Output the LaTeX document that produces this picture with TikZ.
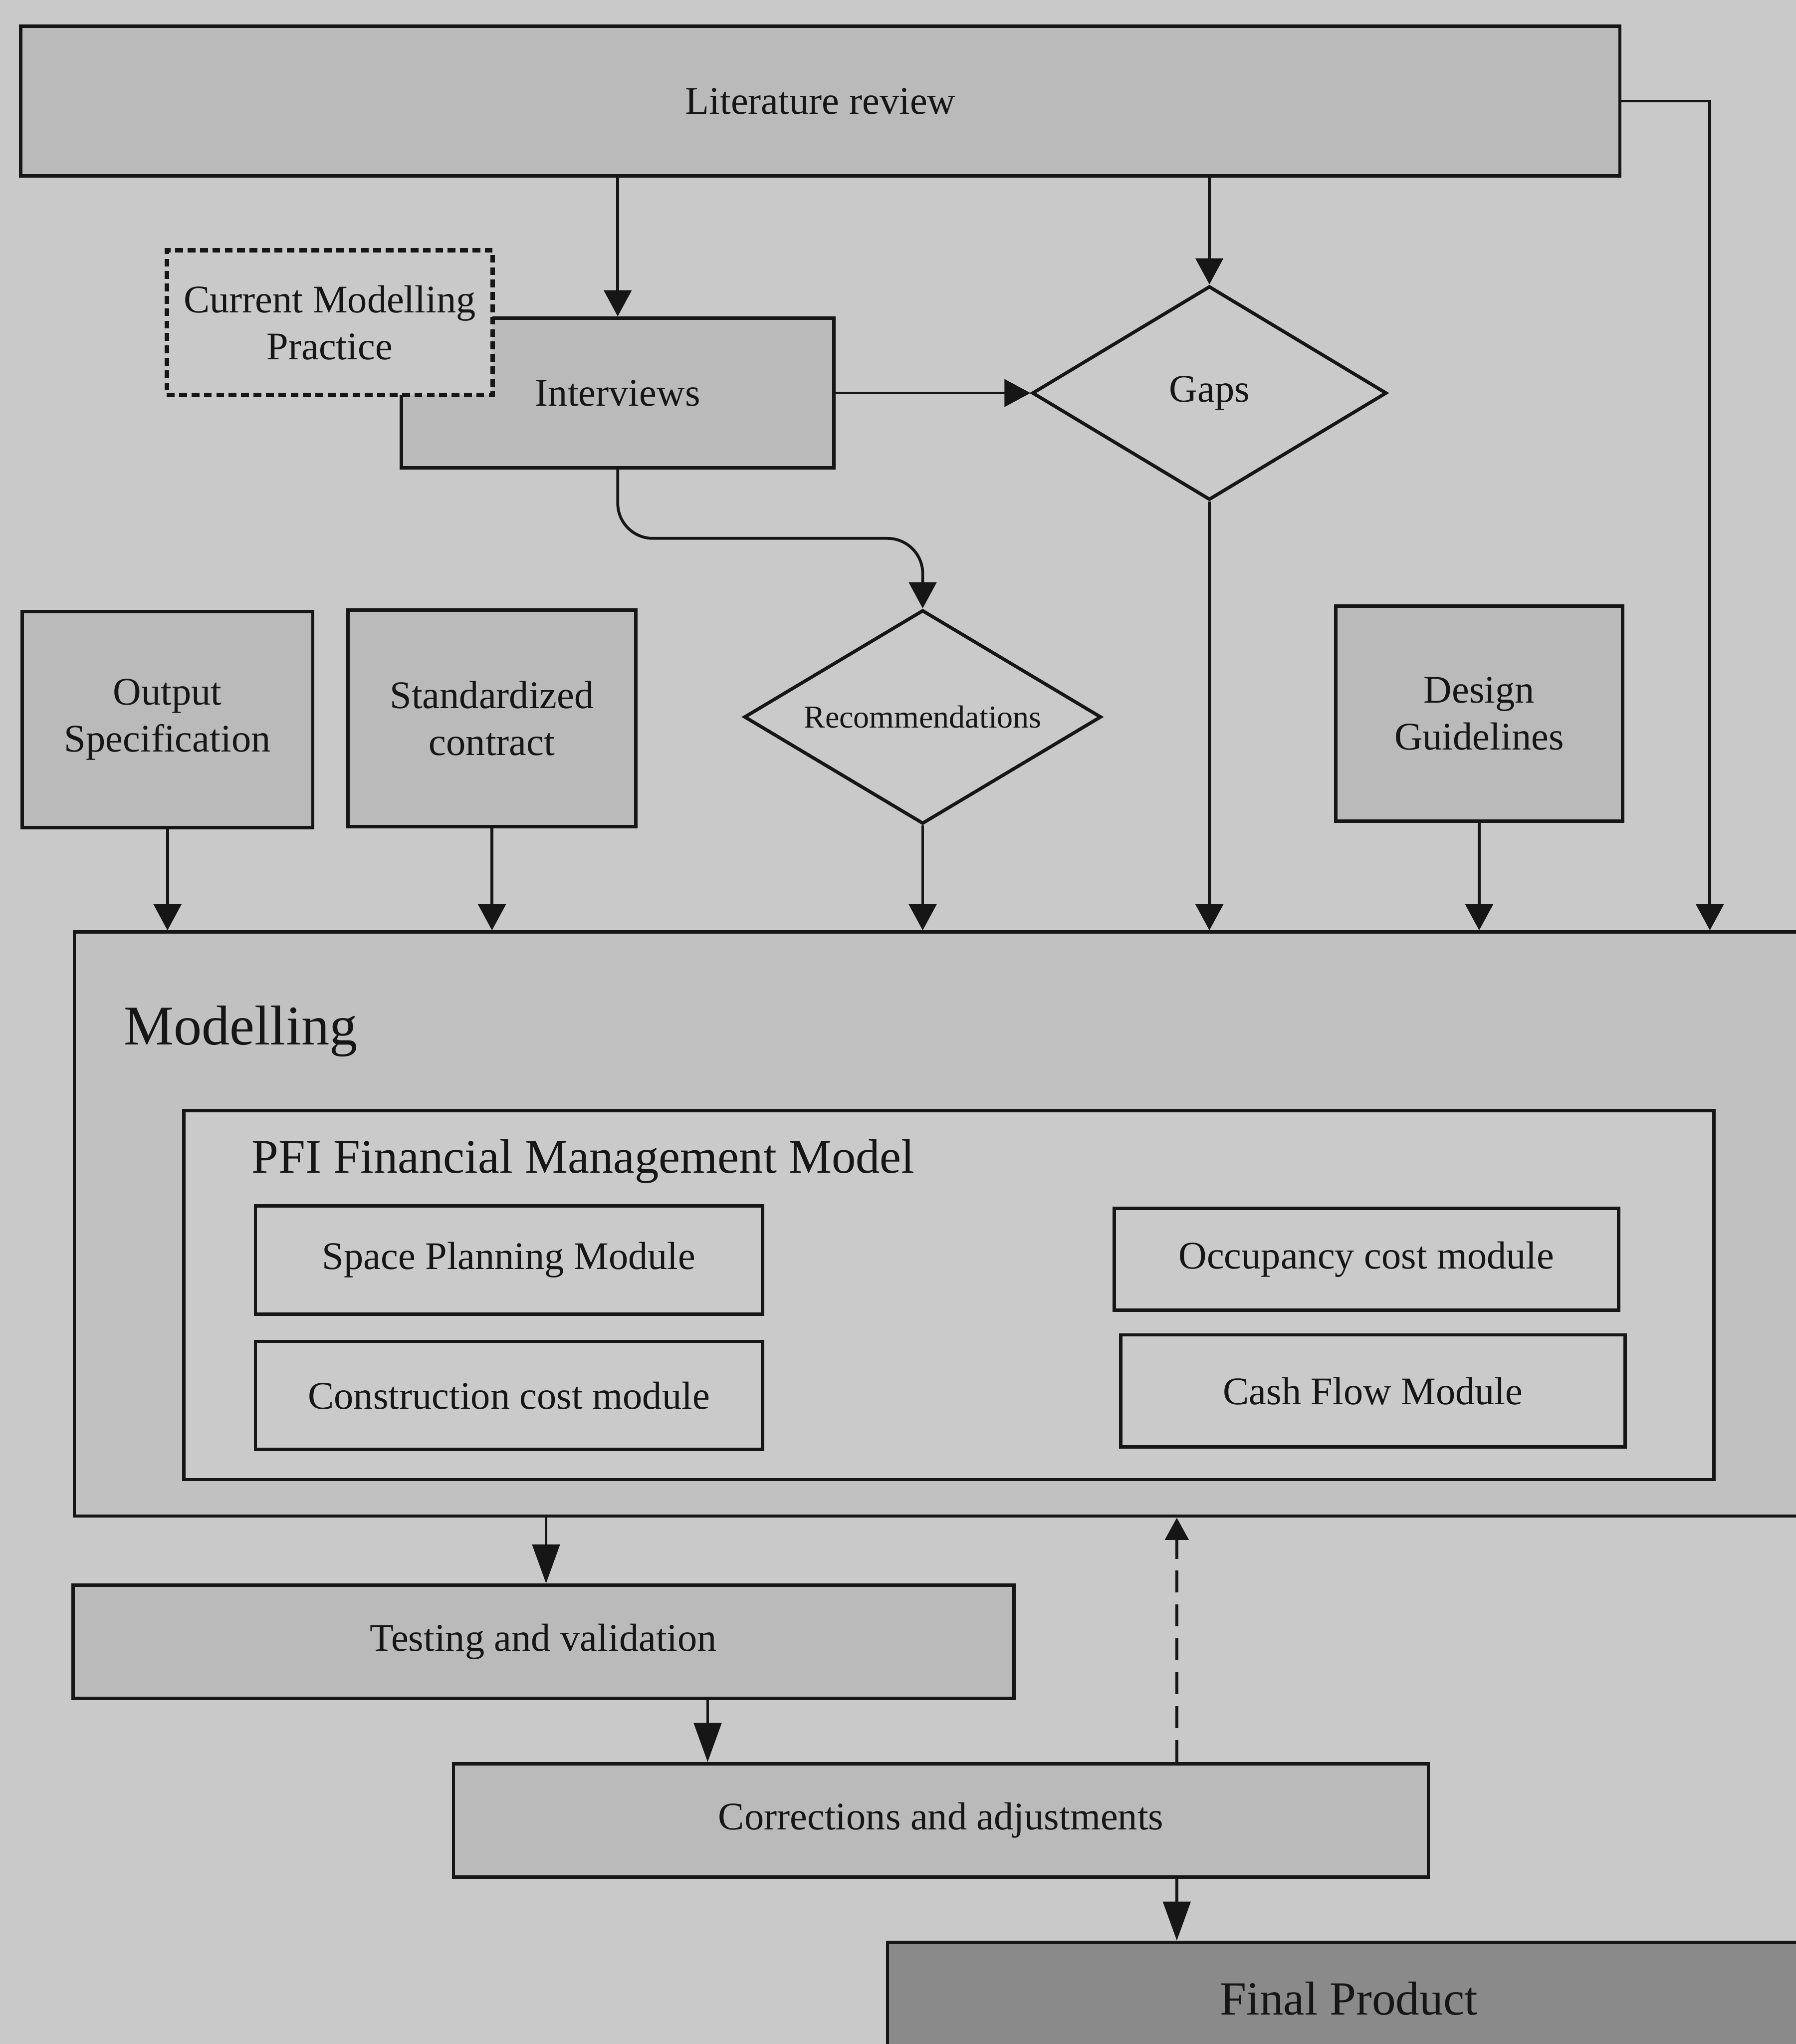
\documentclass[tikz,border=0pt]{standalone}
\usepackage{fontspec}
\setmainfont{Liberation Serif}
\usetikzlibrary{shapes.geometric,arrows.meta}

\definecolor{paper}{RGB}{201,201,201}
\definecolor{boxgray}{RGB}{186,186,186}
\definecolor{modgray}{RGB}{193,193,193}
\definecolor{lightgray}{RGB}{202,202,202}
\definecolor{darkgray}{RGB}{138,138,138}
\definecolor{ink}{RGB}{22,22,22}

\tikzset{
  base/.style={draw=ink, line width=2.6pt, rectangle, inner sep=0pt, align=center,
    text=ink, font=\fontsize{30}{36}\selectfont},
  graybox/.style={base, fill=boxgray},
  plainbox/.style={base, fill=lightgray},
  dashbox/.style={base, fill=paper, line width=3.5pt, dash pattern=on 6pt off 3.5pt},
  decision/.style={base, shape=diamond, shape aspect=1.67, fill=lightgray},
  arr/.style={draw=ink, line width=2.2pt, -{Triangle[length=20pt,width=21pt]}},
  longarr/.style={draw=ink, line width=2.2pt, -{Triangle[length=30pt,width=21pt]}},
  backarr/.style={draw=ink, line width=2.2pt, dash pattern=on 17pt off 9pt,
    -{Triangle[length=17pt,width=18pt]}}
}

\begin{document}
\begin{tikzpicture}[x=1pt,y=-1pt]
  \useasboundingbox (0,0) rectangle (1378,1568);
  \fill[paper] (0,0) rectangle (1378,1568);

  % top row
  \node[graybox, minimum width=1227pt, minimum height=115pt] (lit) at (629.5,77.5) {Literature review};
  \node[graybox, minimum width=332pt, minimum height=115pt] (interviews) at (474,301.5) {Interviews};
  \node[dashbox, minimum width=250pt, minimum height=111pt] (cmp) at (253,247.5) {Current Modelling\\Practice};
  \node[decision, minimum width=272pt, minimum height=164pt] (gaps) at (928,301.5) {Gaps};

  % input sources
  \node[graybox, minimum width=223pt, minimum height=166pt] (outspec) at (128.5,552) {Output\\Specification};
  \node[graybox, minimum width=221pt, minimum height=166pt] (stdcon) at (377.5,551) {Standardized\\contract};
  \node[decision, minimum width=274pt, minimum height=164pt, font=\fontsize{24.5}{29}\selectfont] (recs) at (708,550) {Recommendations};
  \node[graybox, minimum width=220pt, minimum height=165pt] (design) at (1135,547.5) {Design\\Guidelines};

  % modelling block
  \node[base, fill=modgray, minimum width=1338pt, minimum height=448pt] (modelling) at (726,939) {};
  \node[anchor=west, text=ink, inner sep=0pt, font=\fontsize{43}{50}\selectfont] (modlabel) at (95,791) {Modelling};
  \node[plainbox, minimum width=1174pt, minimum height=283pt] (pfi) at (728,993.5) {};
  \node[anchor=west, text=ink, inner sep=0pt, font=\fontsize{37}{44}\selectfont] (pfititle) at (193,891) {PFI Financial Management Model};
  \node[plainbox, minimum width=389pt, minimum height=83pt] (space) at (390.5,966.5) {Space Planning Module};
  \node[plainbox, minimum width=389pt, minimum height=83pt] (constr) at (390.5,1070.5) {Construction cost module};
  \node[plainbox, minimum width=387pt, minimum height=78pt] (occ) at (1048.5,966) {Occupancy cost module};
  \node[plainbox, minimum width=387pt, minimum height=86pt] (cash) at (1053.5,1067) {Cash Flow Module};

  % evaluation chain
  \node[graybox, minimum width=722pt, minimum height=87pt] (testing) at (417,1259.5) {Testing and validation};
  \node[graybox, minimum width=748pt, minimum height=87pt] (corr) at (722,1396.5) {Corrections and adjustments};
  \node[base, fill=darkgray, minimum width=708pt, minimum height=86pt, font=\fontsize{36.5}{44}\selectfont] (final) at (1035,1533) {Final Product};

  % routing points
  \coordinate (litturn) at (1312,77.5);
  \coordinate (bend) at (590,413);
  \coordinate (dropA) at (419,0);
  \coordinate (dropB) at (543,0);
  \coordinate (dropC) at (903,0);

  % connectors
  \draw[arr] (interviews.north |- lit.south) -- (interviews.north);
  \draw[arr] (gaps.north |- lit.south) -- (gaps.north);
  \draw[arr] (lit.east) -- (litturn) -- (litturn |- modelling.north);
  \draw[arr] (interviews.east) -- (gaps.west);
  \draw[arr, rounded corners=27pt] (interviews.south) |- (bend) -| (recs.north);
  \draw[arr] (recs.south) -- (recs.south |- modelling.north);
  \draw[arr] (gaps.south) -- (gaps.south |- modelling.north);
  \draw[arr] (outspec.south) -- (outspec.south |- modelling.north);
  \draw[arr] (stdcon.south) -- (stdcon.south |- modelling.north);
  \draw[arr] (design.south) -- (design.south |- modelling.north);
  \draw[longarr] (dropA |- modelling.south) -- (dropA |- testing.north);
  \draw[longarr] (dropB |- testing.south) -- (dropB |- corr.north);
  \draw[backarr] (dropC |- corr.north) -- (dropC |- modelling.south);
  \draw[longarr] (dropC |- corr.south) -- (dropC |- final.north);
\end{tikzpicture}
\end{document}
